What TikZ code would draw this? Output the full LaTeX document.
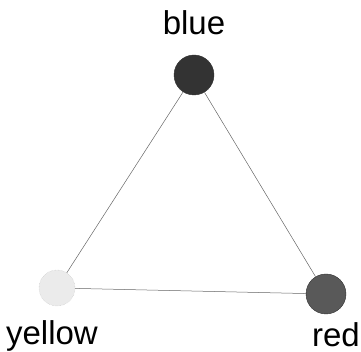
\documentclass[tikz,border=0pt]{standalone}
\usepackage{fontspec}
\setmainfont{Liberation Sans}
\usepackage{tikz}
\usetikzlibrary{positioning}

\begin{document}
\begin{tikzpicture}[x=1pt, y=1pt,
    vertex/.style={circle, draw=black!80, minimum size=40pt, inner sep=0pt},
    vlabel/.style={font=\fontsize{33}{33}\selectfont, inner sep=0pt},
    line/.style={draw=black!60, line width=0.5pt},
  ]
    \useasboundingbox (0,0) rectangle (361,352);

    % Vertices
    \node[vertex, fill=black!80] (blue) at (194, 277) {};
    \node[vertex, fill=black!8, draw=black!25, densely dotted, minimum size=36pt] (yellow) at (57, 64) {};
    \node[vertex, fill=black!65] (red) at (326, 58) {};

    % Labels
    \node[vlabel, above=20pt of blue] (lblue) {blue};
    \node[vlabel, below=14pt of yellow, xshift=-5pt] (lyellow) {yellow};
    \node[vlabel, below=8pt of red, xshift=10pt] (lred) {red};

    % Edges
    \draw[line] (blue) -- (yellow);
    \draw[line] (blue) -- (red);
    \draw[line] (yellow) -- (red);

  \end{tikzpicture}
\end{document}
